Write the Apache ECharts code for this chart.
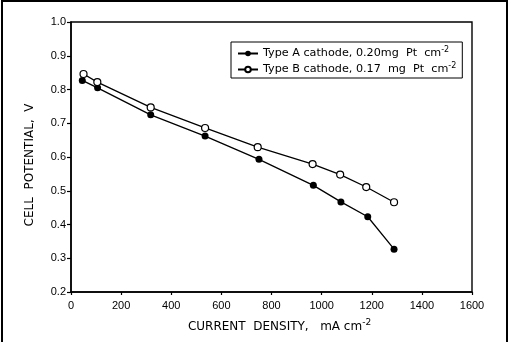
<!DOCTYPE html>
<html>
<head>
<meta charset="utf-8">
<script src="https://cdn.jsdelivr.net/npm/echarts@6/dist/echarts.min.js"></script>
<style>
    html, body { margin: 0; padding: 0; background: #fff; }
    #chart { width: 516px; height: 342px; }
</style>
</head>
<body>
<!-- cell potential vs current density -->
<div id="chart"></div>
<script>
    // Type A cathode (filled circles)
    var currentA = [45, 106, 318, 535, 750, 967, 1077, 1184, 1289];
    var potentialA = [0.827, 0.805, 0.725, 0.662, 0.593, 0.516, 0.467, 0.423, 0.327];
    // Type B cathode (open circles)
    var currentB = [50, 105, 318, 535, 745, 964, 1074, 1178, 1289];
    var potentialB = [0.846, 0.822, 0.747, 0.686, 0.629, 0.579, 0.548, 0.511, 0.466];

    var nameA = 'Type A cathode, 0.20mg  Pt  cm{s|-2}';
    var nameB = 'Type B cathode, 0.17  mg  Pt  cm{s|-2}';

    function pairs(xs, ys) {
        return xs.map(function (x, i) { return [x, ys[i]]; });
    }

    var font = 'DejaVu Sans';
    var chart = echarts.init(document.getElementById('chart'));
    chart.setOption({
        animation: false,
        backgroundColor: '#fff',
        grid: {
            left: 71, top: 22, right: 44, bottom: 50,
            show: true, borderColor: '#000', borderWidth: 1.4
        },
        legend: {
            left: 231, top: 42,
            orient: 'vertical',
            backgroundColor: '#fff',
            borderColor: '#000', borderWidth: 1,
            padding: [4, 6, 3, 6],
            itemGap: 3,
            itemWidth: 20, itemHeight: 7,
            data: ['A', 'B'],
            formatter: function (n) { return n === 'A' ? nameA : nameB; },
            textStyle: {
                color: '#000', fontFamily: font, fontSize: 11.2,
                rich: {
                    s: { fontSize: 8, padding: [0, 0, 7, 0], fontFamily: font, color: '#000' }
                }
            }
        },
        xAxis: {
            type: 'value', min: 0, max: 1600, interval: 200,
            name: 'CURRENT  DENSITY,   mA cm{s|-2}',
            nameLocation: 'middle', nameGap: 26,
            nameTextStyle: {
                color: '#000', fontFamily: font, fontSize: 12,
                padding: [0, 0, 0, 16],
                rich: { s: { fontSize: 9, padding: [0, 0, 8, 0], fontFamily: font, color: '#000' } }
            },
            axisLine: { lineStyle: { color: '#000', width: 1.5 } },
            axisTick: { show: true, length: 3, lineStyle: { color: '#000', width: 1.2 } },
            axisLabel: {
                color: '#000', fontFamily: 'Liberation Sans', fontSize: 11, margin: 8,
                formatter: function (v) { return String(v); }
            },
            splitLine: { show: false }
        },
        yAxis: {
            type: 'value', min: 0.2, max: 1.0, interval: 0.1,
            name: 'CELL  POTENTIAL,  V',
            nameLocation: 'middle', nameGap: 35,
            nameTextStyle: {
                color: '#000', fontFamily: font, fontSize: 12,
                padding: [0, 16, 0, 0]
            },
            axisLine: { show: true, lineStyle: { color: '#000', width: 1.5 } },
            axisTick: { show: true, length: 4, lineStyle: { color: '#000', width: 1.2 } },
            axisLabel: {
                color: '#000', fontFamily: 'Liberation Sans', fontSize: 11, margin: 5,
                formatter: function (v) { return v.toFixed(1); }
            },
            splitLine: { show: false }
        },
        series: [
            {
                name: 'A', type: 'line',
                data: pairs(currentA, potentialA),
                symbol: 'circle', symbolSize: 7,
                itemStyle: { color: '#000' },
                lineStyle: { color: '#000', width: 1.3 }
            },
            {
                name: 'B', type: 'line',
                data: pairs(currentB, potentialB),
                symbol: 'circle', symbolSize: 7,
                itemStyle: { color: '#fff', borderColor: '#000', borderWidth: 1.2 },
                lineStyle: { color: '#000', width: 1.3 }
            }
        ],
        graphic: [
            // outer frame of the figure
            {
                type: 'polyline',
                shape: { points: [[2, 342], [2, 1], [507, 1], [507, 342]] },
                style: { stroke: '#000', lineWidth: 2, fill: null }
            }
        ]
    });
</script>
</body>
</html>
